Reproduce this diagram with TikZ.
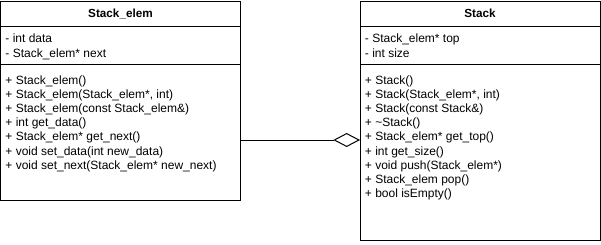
\documentclass[tikz,border=0pt]{standalone}
\usepackage{fontspec}
\setmainfont{Liberation Sans}
\usepackage{tikz}
\usetikzlibrary{arrows.meta,positioning}

\begin{document}
\begin{tikzpicture}[x=.75pt,y=-.75pt,line join=miter,
  part/.style={draw=black,line width=.75pt,inner sep=0pt,outer sep=0pt,
    minimum width=180pt},
  title/.style={font=\fontsize{8.8}{10}\selectfont\bfseries},
  members/.style={font=\fontsize{9}{10.65}\selectfont,align=left,
    anchor=north west,inner sep=0pt,execute at begin node=\strut},
  aggr/.style={line width=.75pt,
    -{Diamond[open,length=20pt,width=10.5pt,line width=.75pt]}}]
  \useasboundingbox (0,0) rectangle (601,244);
  % Stack_elem class.
  \node[part,title,minimum height=18.75pt,anchor=north west] (elemhead) at (0.5,1) {Stack\_elem};
  \node[part,minimum height=28.5pt,below=0pt of elemhead] (elemattr) {};
  \node[part,minimum height=102pt,below=0pt of elemattr] (elemops) {};
  \node[members] (elemattrtext) at ([xshift=3.5pt,yshift=-6pt]elemattr.north west)
    {- int data\\- Stack\_elem* next};
  \node[members] (elemopstext) at ([xshift=3.5pt,yshift=-8.3pt]elemops.north west)
    {+ Stack\_elem()\\
     + Stack\_elem(Stack\_elem*, int)\\
     + Stack\_elem(const Stack\_elem\&)\\
     + int get\_data()\\
     + Stack\_elem* get\_next()\\
     + void set\_data(int new\_data)\\
     + void set\_next(Stack\_elem* new\_next)};
  % Stack class.
  \node[part,title,minimum height=18.75pt,anchor=north west] (stackhead) at (360,1) {Stack};
  \node[part,minimum height=28.5pt,below=0pt of stackhead] (stackattr) {};
  \node[part,minimum height=132pt,below=0pt of stackattr] (stackops) {};
  \node[members] (stackattrtext) at ([xshift=3.5pt,yshift=-6pt]stackattr.north west)
    {- Stack\_elem* top\\- int size};
  \node[members] (stackopstext) at ([xshift=3.5pt,yshift=-8.3pt]stackops.north west)
    {+ Stack()\\
     + Stack(Stack\_elem*, int)\\
     + Stack(const Stack\&)\\
     + \textasciitilde Stack()\\
     + Stack\_elem* get\_top()\\
     + int get\_size()\\
     + void push(Stack\_elem*)\\
     + Stack\_elem pop()\\
     + bool isEmpty()};
  % Aggregation.
  \coordinate (joint) at (300,140);
  \draw[aggr] (elemops.east |- joint) -- (stackops.west |- joint);
\end{tikzpicture}
\end{document}
